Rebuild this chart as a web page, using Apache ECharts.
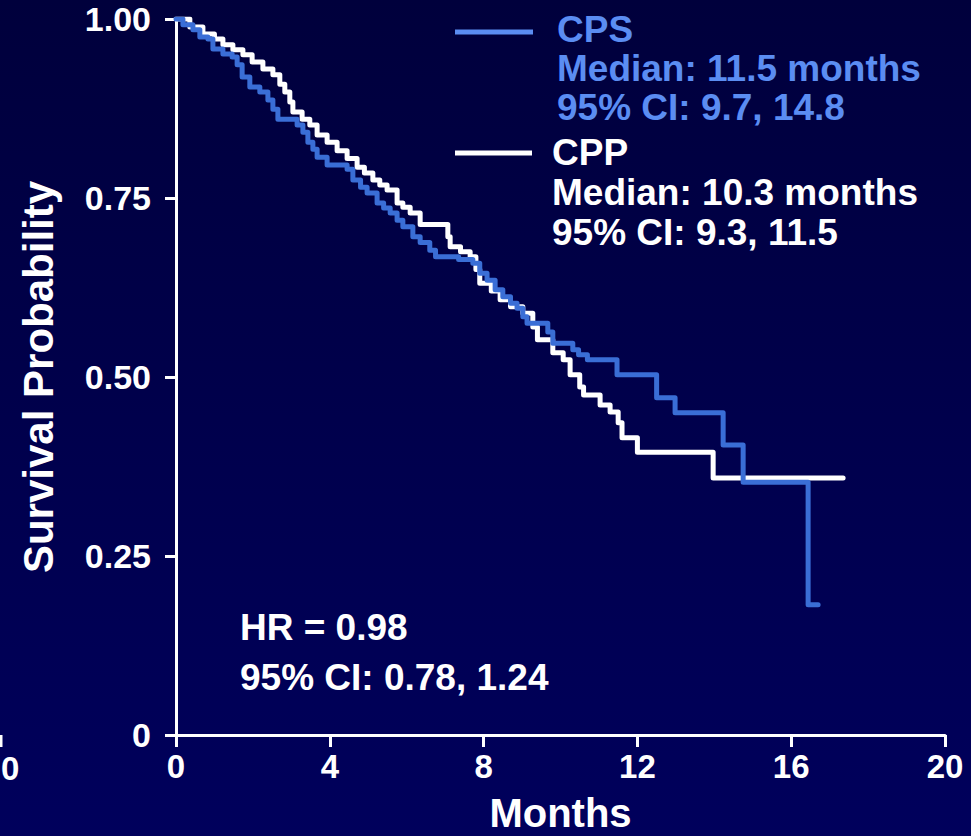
<!DOCTYPE html>
<html>
<head>
<meta charset="utf-8">
<script src="https://cdn.jsdelivr.net/npm/echarts@6/dist/echarts.min.js"></script>
<style>
  html, body { margin: 0; padding: 0; width: 971px; height: 836px; overflow: hidden; }
  #chart { width: 971px; height: 836px; }
</style>
</head>
<body>
<div id="chart"></div>
<script>
// ---- data ----
const cpsMonths = [0, 0.18, 0.44, 0.62, 0.83, 0.96, 1.22, 1.46, 1.59, 1.72, 1.92, 2.18, 2.39, 2.52, 2.65, 3.15, 3.30, 3.43, 3.56, 3.67, 3.93, 4.45, 4.60, 4.80, 4.97, 5.23, 5.40, 5.57, 5.75, 5.90, 6.16, 6.35, 6.60, 6.75, 7.35, 7.72, 7.90, 8.09, 8.30, 8.50, 8.70, 8.87, 9.02, 9.13, 9.67, 9.80, 10.32, 10.47, 10.70, 11.47, 12.50, 12.98, 14.23, 14.75, 16.44, 16.70];
const cpsSurvival = [1.000, 0.992, 0.985, 0.975, 0.972, 0.958, 0.951, 0.947, 0.936, 0.919, 0.905, 0.898, 0.887, 0.874, 0.860, 0.852, 0.842, 0.828, 0.818, 0.807, 0.796, 0.790, 0.775, 0.765, 0.757, 0.743, 0.736, 0.729, 0.719, 0.710, 0.696, 0.688, 0.677, 0.668, 0.664, 0.659, 0.645, 0.635, 0.622, 0.612, 0.603, 0.596, 0.584, 0.575, 0.563, 0.547, 0.538, 0.531, 0.524, 0.503, 0.471, 0.450, 0.405, 0.353, 0.182, 0.182];

const cppMonths = [0, 0.36, 0.70, 1.00, 1.22, 1.48, 1.74, 1.98, 2.26, 2.52, 2.70, 2.83, 2.96, 3.04, 3.28, 3.48, 3.67, 3.93, 4.19, 4.45, 4.71, 4.90, 5.12, 5.30, 5.49, 5.75, 5.90, 6.09, 6.35, 7.07, 7.13, 7.40, 7.65, 7.80, 7.90, 8.20, 8.43, 8.70, 9.02, 9.28, 9.40, 9.80, 10.07, 10.25, 10.50, 10.60, 11.03, 11.29, 11.50, 11.60, 12.00, 13.97, 17.35];
const cppSurvival = [1.000, 0.989, 0.979, 0.972, 0.964, 0.957, 0.950, 0.940, 0.930, 0.922, 0.909, 0.898, 0.884, 0.870, 0.860, 0.852, 0.838, 0.828, 0.816, 0.805, 0.793, 0.785, 0.775, 0.768, 0.761, 0.743, 0.737, 0.729, 0.713, 0.696, 0.682, 0.675, 0.668, 0.650, 0.631, 0.620, 0.608, 0.598, 0.589, 0.570, 0.552, 0.534, 0.524, 0.503, 0.486, 0.475, 0.461, 0.451, 0.436, 0.415, 0.395, 0.359, 0.359];

const xTicks = [0, 4, 8, 12, 16, 20];
const yTickLabels = { 0: '0', 0.25: '0.25', 0.5: '0.50', 0.75: '0.75', 1: '1.00' };

const seriesNames = ['CPS', 'CPP'];
const cpsLegendLines = ['CPS', 'Median: 11.5 months', '95% CI: 9.7, 14.8'];
const cppLegendLines = ['CPP', 'Median: 10.3 months', '95% CI: 9.3, 11.5'];
const hrLines = ['HR = 0.98', '95% CI: 0.78, 1.24'];
const edgeLabel = '0';

// ---- chart ----
const FONT = '"Liberation Sans", Arial, sans-serif';
const BLUE_LINE = '#3a6ed6';
const BLUE_TEXT = '#5b8df2';
const WHITE = '#ffffff';

const zip = (a, b) => a.map((v, i) => [v, b[i]]);

const chart = echarts.init(document.getElementById('chart'), null, { renderer: 'svg' });

function textLines(lines, x, y0, dy, color, size) {
  return lines.map((t, i) => ({
    type: 'text', left: x, top: y0 + i * dy,
    style: { text: t, fill: color, font: 'bold ' + size + 'px ' + FONT }
  }));
}

const option = {
  backgroundColor: {
    type: 'linear', x: 0, y: 0, x2: 0, y2: 1,
    colorStops: [{ offset: 0, color: '#00003c' }, { offset: 1, color: '#00005c' }]
  },
  animation: false,
  grid: { left: 176, right: 26, top: 19, bottom: 101, containLabel: false, outerBoundsMode: 'none' },
  xAxis: {
    type: 'value', min: 0, max: 20, interval: 4,
    name: 'Months', nameLocation: 'middle', nameGap: 58,
    nameTextStyle: { color: WHITE, fontFamily: FONT, fontWeight: 'bold', fontSize: 40 },
    axisLine: { show: true, onZero: false, lineStyle: { color: WHITE, width: 3 } },
    axisTick: { show: true, inside: false, length: 12, lineStyle: { color: WHITE, width: 3 } },
    axisLabel: { color: WHITE, fontFamily: FONT, fontWeight: 'bold', fontSize: 33, margin: 15,
      formatter: v => xTicks.includes(v) ? String(v) : '' },
    splitLine: { show: false }
  },
  yAxis: {
    type: 'value', min: 0, max: 1, interval: 0.25,
    name: 'Survival Probability', nameLocation: 'middle', nameGap: 117, nameRotate: 90,
    nameTextStyle: { color: WHITE, fontFamily: FONT, fontWeight: 'bold', fontSize: 42 },
    axisLine: { show: true, onZero: false, lineStyle: { color: WHITE, width: 3 } },
    axisTick: { show: true, inside: false, length: 11, lineStyle: { color: WHITE, width: 3 } },
    axisLabel: { color: WHITE, fontFamily: FONT, fontWeight: 'bold', fontSize: 34, margin: 25,
      formatter: v => yTickLabels[v] !== undefined ? yTickLabels[v] : '' },
    splitLine: { show: false }
  },
  series: [
    {
      name: seriesNames[1], type: 'line', step: 'end', showSymbol: false, symbol: 'none',
      data: zip(cppMonths, cppSurvival),
      lineStyle: { color: WHITE, width: 5, cap: 'round', join: 'round' }, z: 3
    },
    {
      name: seriesNames[0], type: 'line', step: 'end', showSymbol: false, symbol: 'none',
      data: zip(cpsMonths, cpsSurvival),
      lineStyle: { color: BLUE_LINE, width: 5, cap: 'round', join: 'round' }, z: 4
    }
  ],
  graphic: [
    { type: 'line', shape: { x1: 455, y1: 32, x2: 533, y2: 32 }, style: { stroke: BLUE_TEXT, lineWidth: 5 } },
    { type: 'line', shape: { x1: 455, y1: 153, x2: 532, y2: 153 }, style: { stroke: WHITE, lineWidth: 5 } },
    ...textLines(cpsLegendLines, 557, 11, 39, BLUE_TEXT, 37),
    ...textLines(cppLegendLines, 552, 134, 40, WHITE, 37),
    ...textLines(hrLines, 240, 609, 50, WHITE, 37),
    { type: 'text', left: 1, top: 752, style: { text: edgeLabel, fill: WHITE, font: 'bold 33px ' + FONT } },
    { type: 'line', shape: { x1: 1, y1: 735, x2: 1, y2: 747 }, style: { stroke: WHITE, lineWidth: 3 } }
  ]
};

chart.setOption(option);
</script>
</body>
</html>
